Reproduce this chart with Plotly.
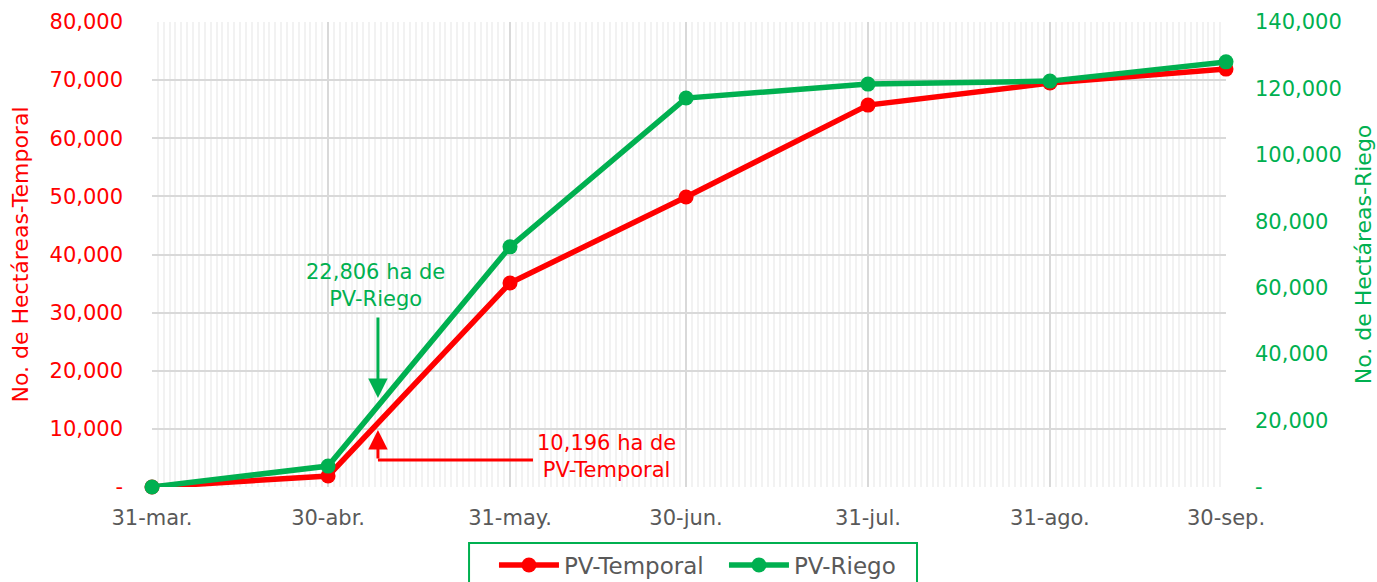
import plotly.graph_objects as go

# ---- data ----
fechas = ["2023-03-31", "2023-04-30", "2023-05-31", "2023-06-30", "2023-07-31", "2023-08-31", "2023-09-30"]
etiquetas_x = ["31-mar.", "30-abr.", "31-may.", "30-jun.", "31-jul.", "31-ago.", "30-sep."]
pv_temporal = [0, 1900, 35100, 49900, 65700, 69500, 71900]
pv_riego = [0, 6300, 72300, 117100, 121300, 122200, 128000]

y1_ticks = [0, 10000, 20000, 30000, 40000, 50000, 60000, 70000, 80000]
y1_text = ["-", "10,000", "20,000", "30,000", "40,000", "50,000", "60,000", "70,000", "80,000"]
y2_ticks = [0, 20000, 40000, 60000, 80000, 100000, 120000, 140000]
y2_text = ["-", "20,000", "40,000", "60,000", "80,000", "100,000", "120,000", "140,000"]

RED = "#FF0000"
GREEN = "#00B050"
GRAY = "#595959"
FONT = "DejaVu Sans"

fig = go.Figure()
fig.add_trace(go.Scatter(x=fechas, y=pv_temporal, name="PV-Temporal", mode="lines+markers",
                         line=dict(color=RED, width=5.5), marker=dict(size=15, color=RED),
                         cliponaxis=False, yaxis="y"))
fig.add_trace(go.Scatter(x=fechas, y=pv_riego, name="PV-Riego", mode="lines+markers",
                         line=dict(color=GREEN, width=5.5), marker=dict(size=15, color=GREEN),
                         cliponaxis=False, yaxis="y2"))

# annotations
fig.add_annotation(x="2023-05-08", y=34750, xref="x", yref="y", text="22,806 ha de<br>PV-Riego",
                   showarrow=False, font=dict(color=GREEN, size=21, family=FONT))
fig.add_annotation(x="2023-05-08 12:00", y=15310, ax="2023-05-08 12:00", ay=29420,
                   xref="x", yref="y", axref="x", ayref="y", text="",
                   showarrow=True, arrowhead=2, arrowsize=1.3, arrowwidth=3, arrowcolor=GREEN)
fig.add_annotation(x="2023-06-16 12:00", y=5330, xref="x", yref="y", text="10,196 ha de<br>PV-Temporal",
                   showarrow=False, font=dict(color=RED, size=21, family=FONT))
fig.add_annotation(x="2023-05-08 12:00", y=9810, ax="2023-05-08 12:00", ay=4645,
                   xref="x", yref="y", axref="x", ayref="y", text="",
                   showarrow=True, arrowhead=2, arrowsize=1.3, arrowwidth=3, arrowcolor=RED)
fig.add_shape(type="line", x0="2023-05-08 12:00", x1="2023-06-03 22:00", y0=4645, y1=4645,
              xref="x", yref="y", line=dict(color=RED, width=3))

# legend frame
fig.add_shape(type="rect", xref="paper", yref="paper", x0=0.2952, x1=0.7123, y0=-0.24, y1=-0.1204,
              line=dict(color=GREEN, width=2), fillcolor="rgba(0,0,0,0)")

fig.update_layout(
    width=1377, height=600,
    margin=dict(l=152, r=151, t=22, b=113),
    plot_bgcolor="white", paper_bgcolor="white",
    font=dict(family=FONT, size=21, color=GRAY),
    showlegend=True,
    legend=dict(orientation="h", x=0.3184, xanchor="left", y=-0.1677, yanchor="middle",
                borderwidth=0, bgcolor="rgba(0,0,0,0)", font=dict(size=23, color=GRAY),
                itemwidth=60, entrywidth=155),
    xaxis=dict(type="date", range=["2023-03-31", "2023-09-30"], automargin=False,
               tickvals=fechas, ticktext=etiquetas_x, showgrid=True, gridcolor="#D9D9D9", gridwidth=2,
               minor=dict(dtick=86400000, showgrid=True, gridcolor="#F2F2F2", gridwidth=2),
               zeroline=False, showline=False, ticks="", ticklabelstandoff=16,
               tickfont=dict(size=21, color=GRAY)),
    yaxis=dict(range=[0, 80000], tickvals=y1_ticks, ticktext=y1_text, showgrid=True, automargin=False,
               gridcolor="#D9D9D9", gridwidth=2, zeroline=False, ticks="", ticklabelstandoff=28,
               tickfont=dict(size=21, color=RED),
               title=dict(text="No. de Hectáreas-Temporal", font=dict(size=22, color=RED), standoff=14)),
    yaxis2=dict(range=[0, 140000], tickvals=y2_ticks, ticktext=y2_text, overlaying="y", side="right",
                showgrid=False, zeroline=False, ticks="", ticklabelstandoff=28, automargin=False,
                tickfont=dict(size=21, color=GREEN),
                title=dict(text="No. de Hectáreas-Riego", font=dict(size=22, color=GREEN), standoff=14)),
)

fig.write_html("out.html", config={"displayModeBar": False},
               post_script="document.body.style.margin='0';document.body.style.overflow='hidden';")
